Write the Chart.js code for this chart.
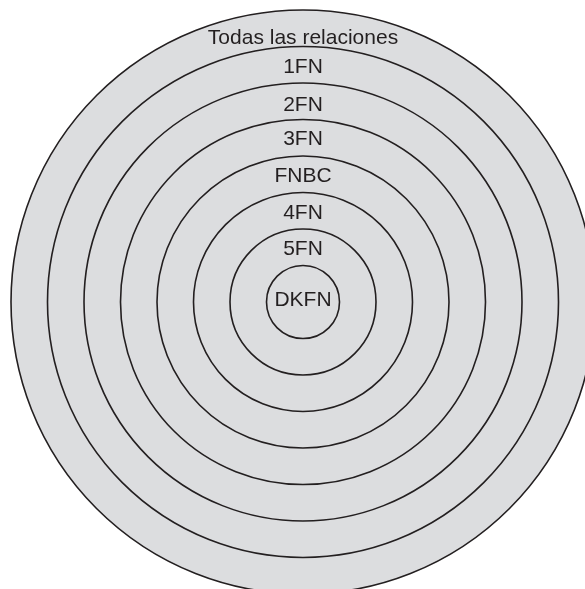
<!DOCTYPE html>
<html>
<head>
<meta charset="utf-8">
<script src="https://cdn.jsdelivr.net/npm/chart.js@4.4.1/dist/chart.umd.min.js"></script>
<style>
  html, body { margin: 0; padding: 0; background: #ffffff; width: 585px; height: 589px; overflow: hidden; }
  #wrap { position: absolute; left: 0px; top: -1px; width: 606px; height: 606px; }
</style>
</head>
<body>
<div id="wrap"><canvas id="c" width="606" height="606"></canvas></div>
<script>
// Ring boundaries (one circle per normal-form set), in ring units from the centre
const ringValues = [1, 2, 3, 4, 5, 6, 7, 8];
// Set names, innermost first
const setNames = ['DKFN', '5FN', '4FN', 'FNBC', '3FN', '2FN', '1FN', 'Todas las relaciones'];
// Radial position of each name, in the same ring units
const nameValues = [0.05, 1.44, 2.43, 3.46, 4.46, 5.39, 6.43, 7.24];
// Outer extent of the filled disc
const discValue = [8];

const LINE = '#231f20';
const FILL = '#dcdddf';

// tick list: index 0 dummy (skipped by the scale), then rings, then names
const tickList = [0].concat(ringValues, nameValues);
const ringStart = 1, nameStart = 1 + ringValues.length;

new Chart(document.getElementById('c'), {
  type: 'polarArea',
  data: {
    labels: [''],
    datasets: [{
      data: discValue,
      backgroundColor: FILL,
      borderWidth: 0
    }]
  },
  options: {
    responsive: false,
    animation: false,
    layout: { padding: 0 },
    plugins: { legend: { display: false }, tooltip: { enabled: false } },
    scales: {
      r: {
        min: 0,
        max: 8,
        angleLines: { display: false },
        pointLabels: { display: false },
        grid: {
          circular: true,
          z: 1,
          color: LINE,
          lineWidth: (ctx) => (ctx.index >= ringStart && ctx.index < nameStart) ? 1.6 : 0
        },
        afterBuildTicks: (scale) => {
          scale.ticks = tickList.map(v => ({ value: v }));
        },
        ticks: {
          z: 1,
          autoSkip: false,
          showLabelBackdrop: false,
          backdropPadding: 0,
          color: LINE,
          font: { family: "'Liberation Sans', Arial, sans-serif", size: 21 },
          callback: (value, index) => index >= nameStart ? setNames[index - nameStart] : ''
        }
      }
    }
  }
});
</script>
</body>
</html>
